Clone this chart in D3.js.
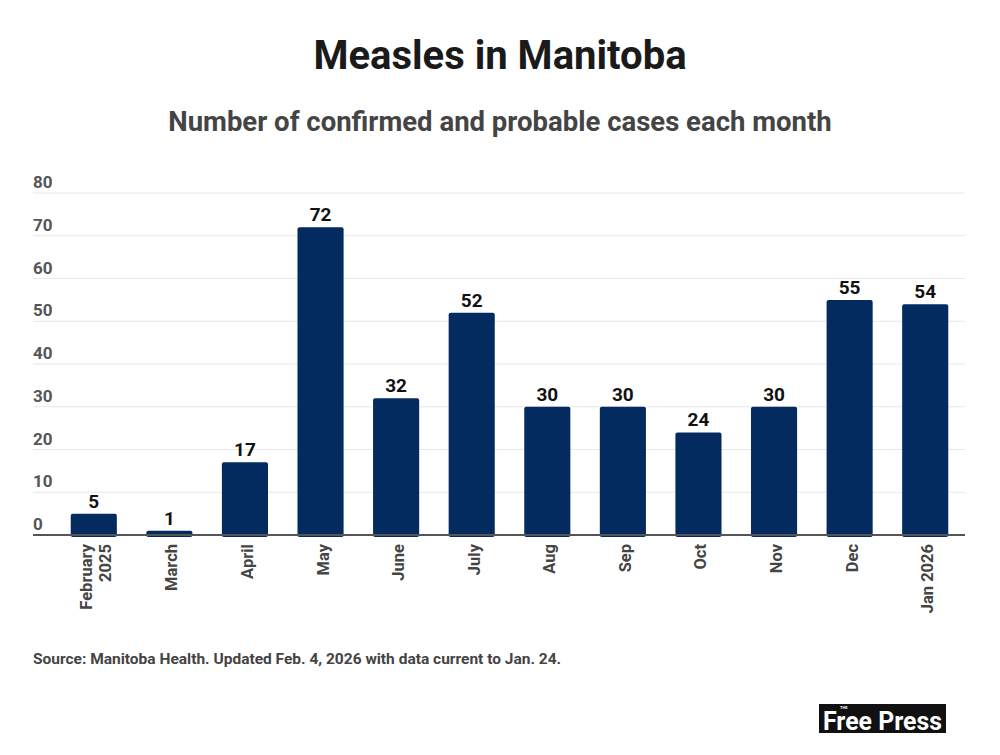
<!DOCTYPE html>
<html>
<head>
<meta charset="utf-8">
<script src="https://cdn.jsdelivr.net/npm/d3@7"></script>
<style>
  body { margin: 0; background: #fff; }
  text { font-family: Roboto, "Noto Sans", sans-serif; }
</style>
</head>
<body>
<script>
//Width and height
var w = 1000;
var h = 755;

var months = ["February|2025", "March", "April", "May", "June", "July", "Aug", "Sep", "Oct", "Nov", "Dec", "Jan 2026"];
var cases = [5, 1, 17, 72, 32, 52, 30, 30, 24, 30, 55, 54];
var yTicks = [0, 10, 20, 30, 40, 50, 60, 70, 80];

var plotLeft = 33, plotRight = 965, plotTop = 193, plotBottom = 535;

var xScale = d3
  .scaleBand()
  .domain(d3.range(months.length))
  .range([56, 963])
  .paddingInner(0.39)
  .paddingOuter(0.195);

var yScale = d3.scaleLinear().domain([0, 80]).range([plotBottom, plotTop]);

//Create SVG element
var svg = d3.select("body").append("svg").attr("width", w).attr("height", h);

//Title and subtitle
svg.append("text")
  .attr("x", w / 2).attr("y", 69)
  .attr("text-anchor", "middle")
  .attr("font-size", "40px").attr("font-weight", "bold")
  .attr("fill", "#1a1a1a")
  .text("Measles in Manitoba");

svg.append("text")
  .attr("x", w / 2).attr("y", 131)
  .attr("text-anchor", "middle")
  .attr("font-size", "27.5px").attr("font-weight", "bold")
  .attr("fill", "#444")
  .text("Number of confirmed and probable cases each month");

//Gridlines and y labels
svg.selectAll("line.grid")
  .data(yTicks.slice(1))
  .enter()
  .append("line")
  .attr("class", "grid")
  .attr("x1", plotLeft).attr("x2", plotRight)
  .attr("y1", function (d) { return yScale(d); })
  .attr("y2", function (d) { return yScale(d); })
  .attr("stroke", "#e8e8e8")
  .attr("stroke-width", 1);

svg.selectAll("text.ytick")
  .data(yTicks)
  .enter()
  .append("text")
  .attr("class", "ytick")
  .attr("x", plotLeft)
  .attr("y", function (d) { return yScale(d) - 5; })
  .attr("font-size", "17px").attr("font-weight", "bold")
  .attr("fill", "#555")
  .text(function (d) { return d; });

//Create bars
svg.selectAll("rect.bar")
  .data(cases)
  .enter()
  .append("rect")
  .attr("class", "bar")
  .attr("x", function (d, i) { return xScale(i); })
  .attr("y", function (d) { return yScale(d); })
  .attr("width", xScale.bandwidth())
  .attr("height", function (d) { return plotBottom - yScale(d) + 2; })
  .attr("rx", 2)
  .attr("fill", "#032b5f");

//Axis line
svg.append("line")
  .attr("x1", plotLeft).attr("x2", plotRight)
  .attr("y1", plotBottom).attr("y2", plotBottom)
  .attr("stroke", "#555").attr("stroke-width", 2);

//Value labels
svg.selectAll("text.value")
  .data(cases)
  .enter()
  .append("text")
  .attr("class", "value")
  .attr("text-anchor", "middle")
  .attr("x", function (d, i) { return xScale(i) + xScale.bandwidth() / 2; })
  .attr("y", function (d) { return yScale(d) - 6; })
  .attr("font-size", "19px").attr("font-weight", "bold")
  .attr("fill", "#111")
  .text(function (d) { return d; });

//Month labels, rotated
var xl = svg.selectAll("text.month")
  .data(months)
  .enter()
  .append("text")
  .attr("class", "month")
  .attr("text-anchor", "end")
  .attr("font-size", "16.5px").attr("font-weight", "bold")
  .attr("fill", "#444")
  .attr("transform", function (d, i) {
    var lines = d.split("|");
    var cx = xScale(i) + xScale.bandwidth() / 2 + 8 - (lines.length - 1) * 10;
    return "translate(" + cx + "," + (plotBottom + 9) + ") rotate(-90)";
  });

xl.selectAll("tspan")
  .data(function (d) { return d.split("|"); })
  .enter()
  .append("tspan")
  .attr("x", 0)
  .attr("dy", function (d, i) { return i === 0 ? 0 : 19; })
  .text(function (d) { return d; });

//Source
svg.append("text")
  .attr("x", plotLeft).attr("y", 664)
  .attr("font-size", "15.5px").attr("font-weight", "bold")
  .attr("fill", "#444")
  .text("Source: Manitoba Health. Updated Feb. 4, 2026 with data current to Jan. 24.");

//Logo
var logo = svg.append("g").attr("transform", "translate(819,704)");
logo.append("rect").attr("width", 127).attr("height", 29).attr("fill", "#111");
logo.append("text")
  .attr("x", 4).attr("y", 26)
  .attr("font-family", "'Liberation Sans Narrow', 'Roboto Condensed', sans-serif")
  .attr("font-size", "26px").attr("font-weight", "bold")
  .attr("fill", "#fff")
  .attr("textLength", 119).attr("lengthAdjust", "spacingAndGlyphs")
  .text("Free Press");
logo.append("text")
  .attr("x", 21).attr("y", 5)
  .attr("font-size", "4px").attr("font-weight", "bold")
  .attr("fill", "#fff")
  .text("THE");
</script>
</body>
</html>
